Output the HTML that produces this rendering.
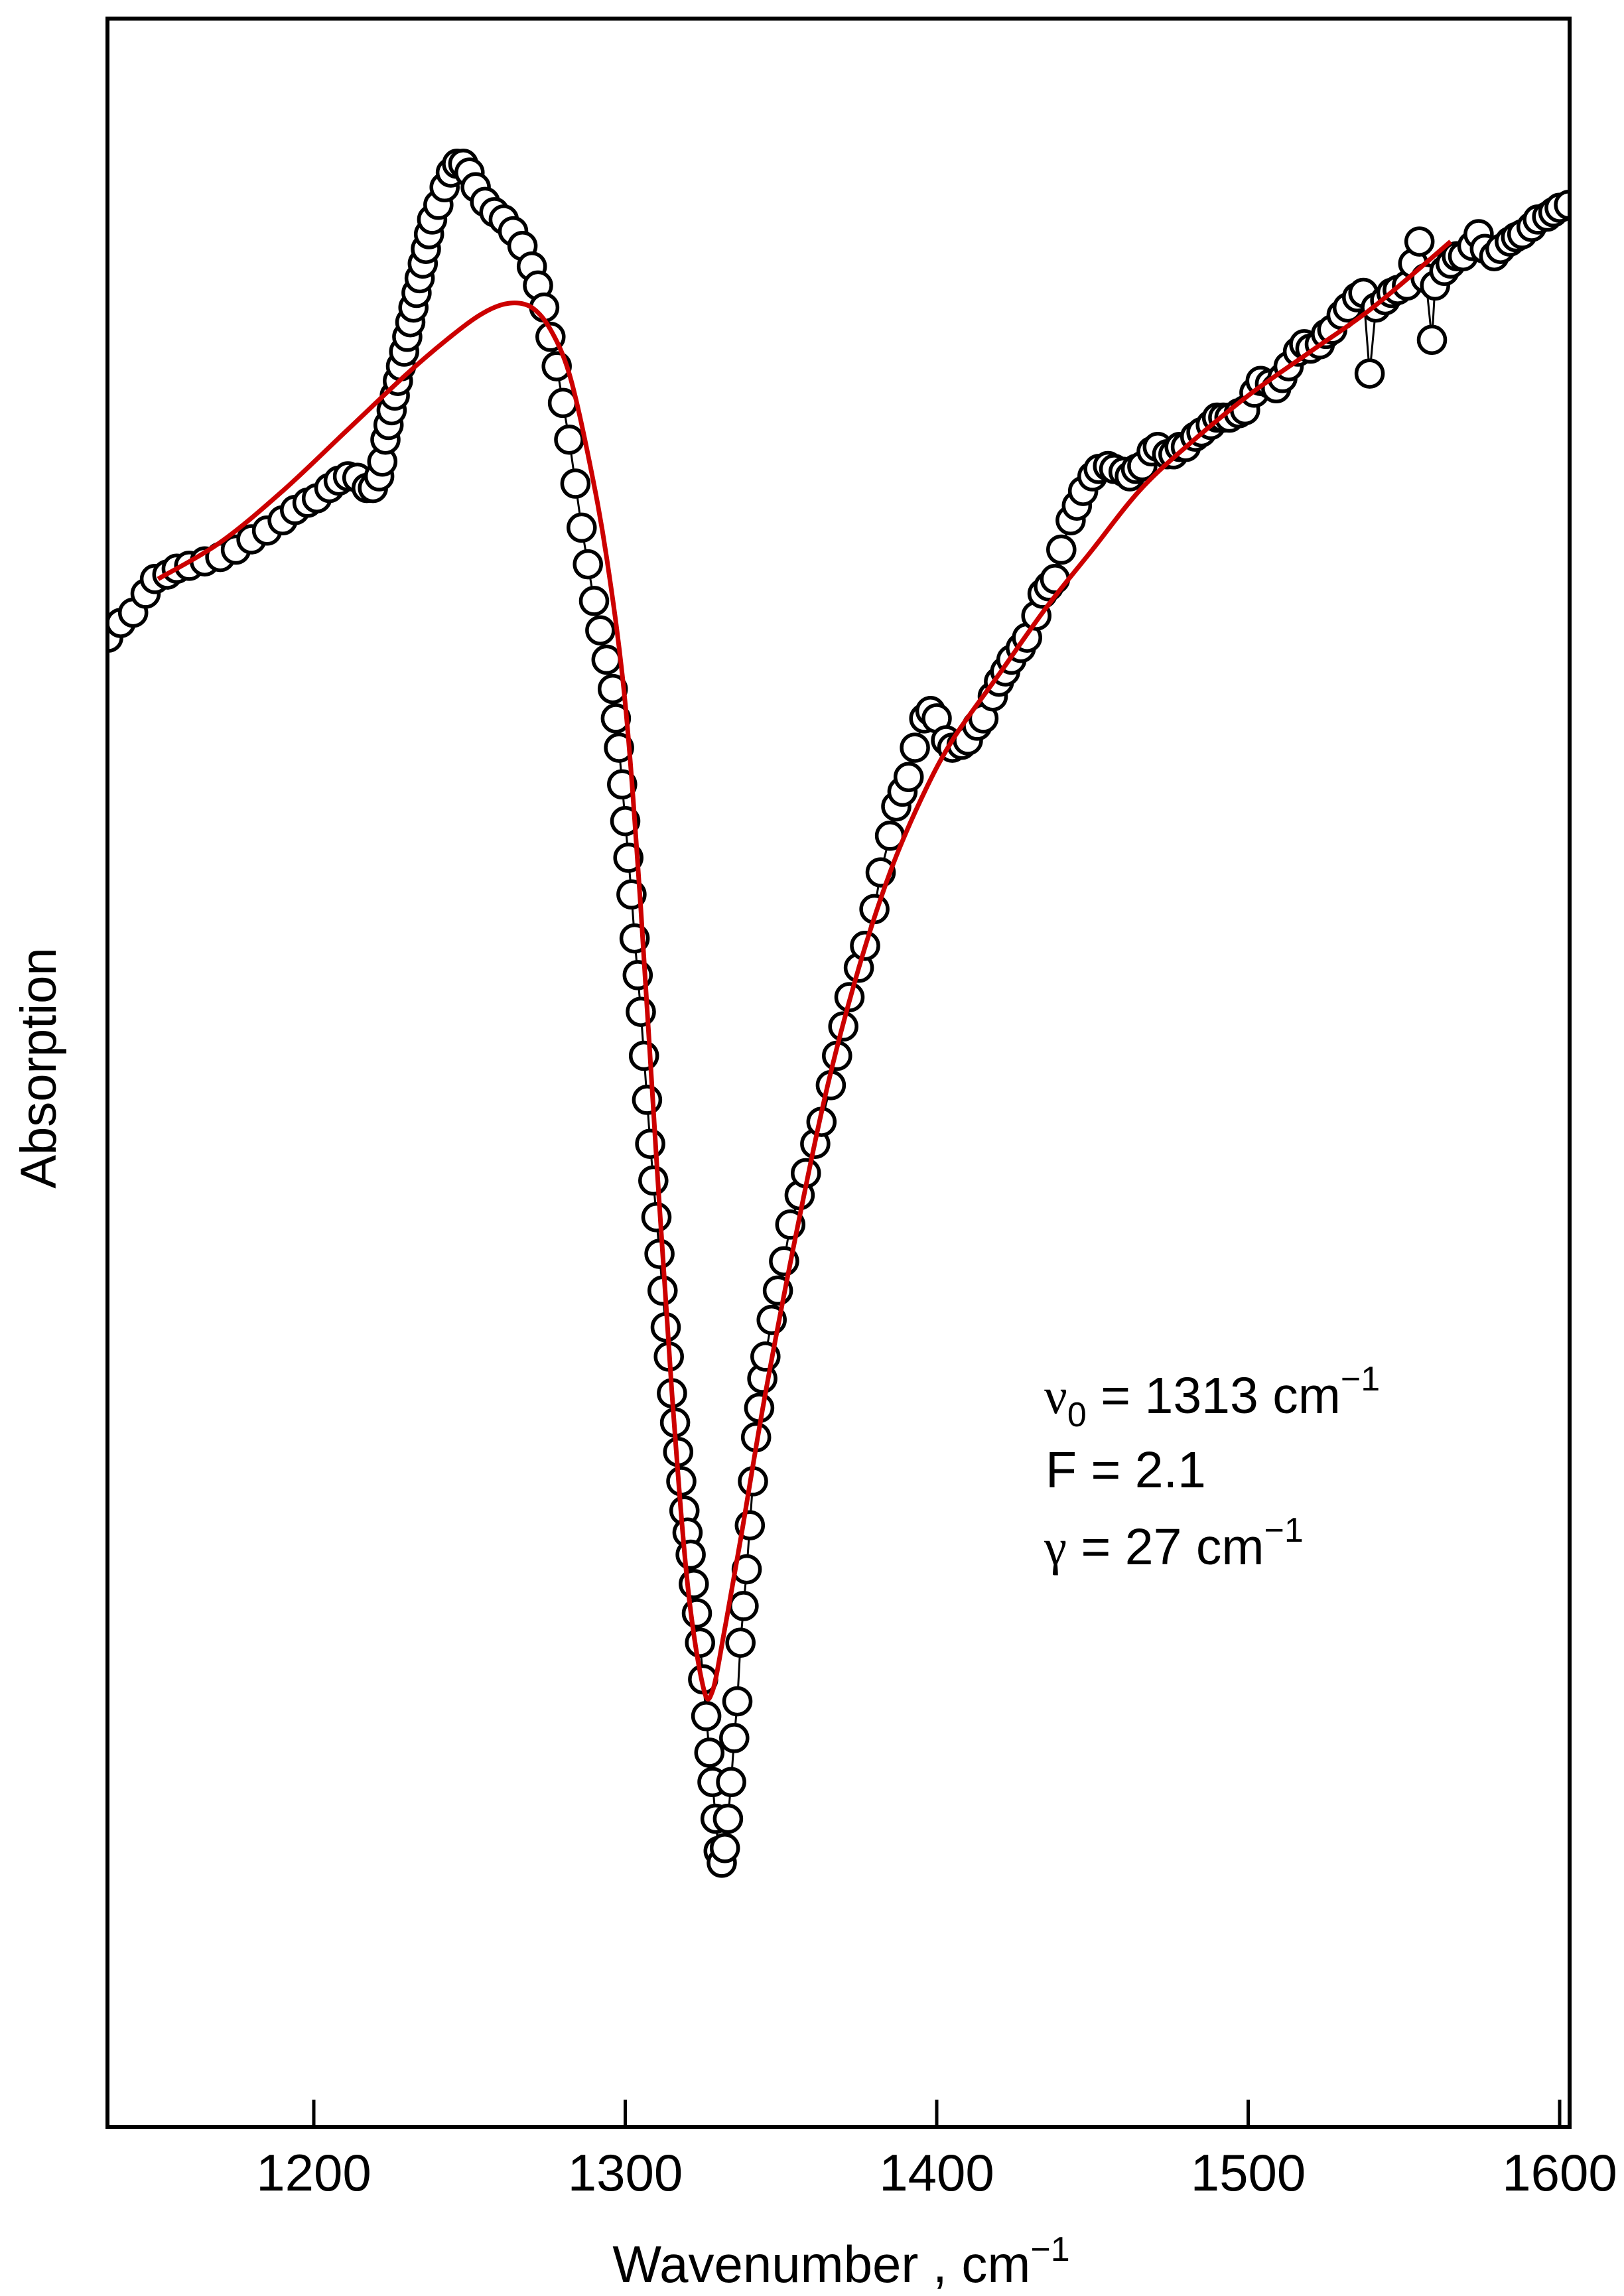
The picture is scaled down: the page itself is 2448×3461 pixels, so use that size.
<!DOCTYPE html>
<html><head><meta charset="utf-8"><style>
html,body{margin:0;padding:0;background:#fff;}
svg{display:block;}
text{font-family:"Liberation Sans",Arial,sans-serif;fill:#000;}
</style></head><body>
<svg id="chart" width="2448" height="3461" viewBox="0 0 2448 3461" xmlns="http://www.w3.org/2000/svg">
<rect x="0" y="0" width="2448" height="3461" fill="#fff"/>
<g id="marks"></g>
<rect x="162" y="28" width="2204" height="3178" fill="none" stroke="#000" stroke-width="6"/>
<g id="xaxis"></g>
<text x="1268" y="3440" font-size="78" text-anchor="middle">Wavenumber , cm<tspan dy="-32" font-size="52">−1</tspan></text>
<text transform="translate(84,1610) rotate(-90)" font-size="76" text-anchor="middle">Absorption</text>
<g font-size="77">
<text x="1574" y="2130"><tspan font-family="Liberation Serif, serif">ν</tspan><tspan dy="20" font-size="52">0</tspan><tspan dy="-20"> = 1313 cm</tspan><tspan dy="-34" font-size="52">−1</tspan></text>
<text x="1576" y="2242">F = 2.1</text>
<text x="1574" y="2358"><tspan font-family="Liberation Serif, serif">γ</tspan> = 27 cm<tspan dy="-34" font-size="52">−1</tspan></text>
</g>
</svg>
<script>
const xTicks = [1200, 1300, 1400, 1500, 1600];
const wavenumbers = [1134,1138,1142,1146,1149,1153,1156,1160,1165,1170,1175,1180,1185,1190,1194,1198,1201,1205,1208,1211,1214,1217,1219,1221,1222,1223,1224,1225,1226,1227,1228,1229,1230,1231,1232,1233,1234,1235,1236,1237,1238,1240,1242,1244,1246,1248,1250,1252,1255,1258,1261,1264,1267,1270,1272,1274,1276,1278,1280,1282,1284,1286,1288,1290,1292,1294,1296,1297,1298,1299,1300,1301,1302,1303,1304,1305,1306,1307,1308,1309,1310,1311,1312,1313,1314,1315,1316,1317,1318,1319,1320,1321,1322,1323,1324,1325,1326,1327,1328,1329,1330,1331,1332,1333,1334,1335,1336,1337,1338,1339,1340,1341,1342,1343,1344,1345,1347,1349,1351,1353,1356,1358,1361,1363,1366,1368,1370,1372,1375,1377,1380,1382,1385,1387,1389,1391,1393,1396,1398,1400,1403,1405,1408,1410,1413,1415,1418,1420,1422,1424,1427,1429,1432,1434,1436,1438,1440,1443,1445,1447,1450,1452,1455,1457,1460,1462,1464,1466,1469,1471,1474,1476,1478,1480,1483,1485,1488,1490,1492,1494,1497,1499,1502,1504,1507,1509,1511,1513,1516,1518,1520,1523,1525,1527,1530,1532,1535,1537,1539,1541,1544,1546,1548,1551,1553,1555,1557,1559,1560,1563,1565,1567,1569,1572,1574,1576,1579,1581,1584,1586,1588,1591,1593,1596,1598,1600,1603];
const absorbance = [1015,1025,1032,1045,1055,1058,1062,1064,1067,1070,1075,1082,1088,1095,1102,1107,1110,1117,1122,1125,1124,1117,1117,1125,1135,1150,1160,1170,1180,1190,1200,1210,1220,1230,1240,1250,1260,1270,1280,1290,1300,1310,1322,1332,1338,1338,1332,1322,1312,1305,1300,1292,1282,1268,1255,1240,1220,1200,1175,1150,1120,1090,1065,1040,1020,1000,980,960,940,915,890,865,840,810,785,760,730,700,670,645,620,595,570,545,525,500,480,460,440,420,405,390,370,350,330,305,280,255,235,210,188,180,190,210,235,265,290,330,355,380,410,440,470,490,510,525,550,570,590,615,635,650,670,685,710,730,750,770,790,805,830,855,880,900,910,920,940,960,965,960,945,940,942,945,955,960,975,985,992,1000,1008,1015,1030,1045,1050,1055,1075,1095,1105,1115,1125,1130,1132,1130,1128,1125,1130,1132,1142,1145,1140,1140,1145,1145,1152,1155,1160,1165,1165,1165,1168,1170,1182,1190,1188,1185,1192,1200,1210,1215,1212,1215,1222,1225,1235,1240,1247,1250,1195,1240,1245,1250,1252,1255,1270,1285,1260,1218,1255,1265,1270,1275,1275,1282,1290,1280,1275,1280,1285,1288,1290,1295,1300,1302,1305,1308,1310];
const fitWavenumbers = [1150,1170,1190,1210,1230,1245,1255,1263,1270,1276,1282,1288,1294,1300,1305,1310,1315,1320,1325,1328,1332,1337,1345,1355,1365,1375,1385,1395,1405,1420,1435,1450,1465,1480,1500,1520,1540,1565];
const fitAbsorbance = [1055,1080,1115,1155,1195,1222,1237,1243,1240,1225,1195,1140,1070,970,830,660,500,370,300,297,340,400,500,610,710,790,855,905,945,990,1035,1075,1115,1145,1180,1210,1240,1285];

const NS = "http://www.w3.org/2000/svg";
function xScale(v){ return 473 + (v - 1200) * 4.695; }
function yScale(a){ return 3206 - a * 2.2116; }

const marks = document.getElementById('marks');
const clip = document.createElementNS(NS,'clipPath');
clip.setAttribute('id','plotclip');
const cr = document.createElementNS(NS,'rect');
cr.setAttribute('x',162); cr.setAttribute('y',28); cr.setAttribute('width',2204); cr.setAttribute('height',3178);
clip.appendChild(cr);
document.getElementById('chart').insertBefore(clip, marks);
marks.setAttribute('clip-path','url(#plotclip)');

let d = '';
for (let i = 0; i < wavenumbers.length; i++) {
  d += (i ? 'L' : 'M') + xScale(wavenumbers[i]).toFixed(1) + ' ' + yScale(absorbance[i]).toFixed(1);
}
const conn = document.createElementNS(NS,'path');
conn.setAttribute('d', d);
conn.setAttribute('fill','none');
conn.setAttribute('stroke','#000');
conn.setAttribute('stroke-width','3');


marks.appendChild(conn);

for (let i = 0; i < wavenumbers.length; i++) {
  const c = document.createElementNS(NS,'circle');
  c.setAttribute('cx', xScale(wavenumbers[i]).toFixed(1));
  c.setAttribute('cy', yScale(absorbance[i]).toFixed(1));
  c.setAttribute('r', '20');
  c.setAttribute('fill','#fff');
  c.setAttribute('stroke','#000');
  c.setAttribute('stroke-width','5.5');
  
  
  marks.appendChild(c);
}

// smooth fit curve (Catmull-Rom through fit points)
const fp = fitWavenumbers.map((w, i) => [xScale(w), yScale(fitAbsorbance[i])]);
let fd = 'M' + fp[0][0].toFixed(1) + ' ' + fp[0][1].toFixed(1);
for (let i = 0; i < fp.length - 1; i++) {
  const p0 = fp[Math.max(0, i - 1)], p1 = fp[i], p2 = fp[i + 1], p3 = fp[Math.min(fp.length - 1, i + 2)];
  const c1x = p1[0] + (p2[0] - p0[0]) / 6, c1y = p1[1] + (p2[1] - p0[1]) / 6;
  const c2x = p2[0] - (p3[0] - p1[0]) / 6, c2y = p2[1] - (p3[1] - p1[1]) / 6;
  fd += 'C' + c1x.toFixed(1) + ' ' + c1y.toFixed(1) + ' ' + c2x.toFixed(1) + ' ' + c2y.toFixed(1) + ' ' + p2[0].toFixed(1) + ' ' + p2[1].toFixed(1);
}
const fit = document.createElementNS(NS,'path');
fit.setAttribute('d', fd);
fit.setAttribute('fill','none');
fit.setAttribute('stroke','#cc0000');
fit.setAttribute('stroke-width','7');
fit.setAttribute('stroke-linejoin','round');


marks.appendChild(fit);

const xaxis = document.getElementById('xaxis');
for (let i = 0; i < xTicks.length; i++) {
  const x = xScale(xTicks[i]);
  const t = document.createElementNS(NS,'line');
  t.setAttribute('x1', x); t.setAttribute('x2', x);
  t.setAttribute('y1', 3206); t.setAttribute('y2', 3165);
  t.setAttribute('stroke','#000'); t.setAttribute('stroke-width','5');
  
  
  xaxis.appendChild(t);
  const lb = document.createElementNS(NS,'text');
  lb.setAttribute('x', x); lb.setAttribute('y', 3302);
  lb.setAttribute('font-size','78');
  lb.setAttribute('text-anchor','middle');
  lb.textContent = xTicks[i];
  
  
  xaxis.appendChild(lb);
}
</script>
</body></html>
